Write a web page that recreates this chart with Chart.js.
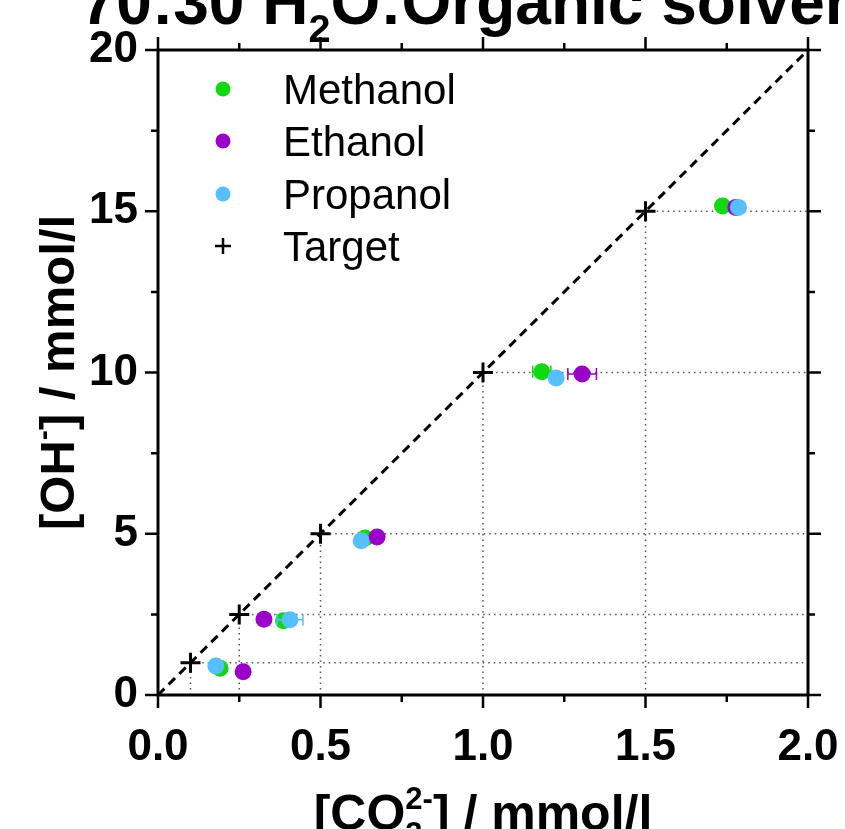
<!DOCTYPE html>
<html>
<head>
<meta charset="utf-8">
<script src="https://cdn.jsdelivr.net/npm/chart.js@4.4.0/dist/chart.umd.min.js"></script>
<style>
  html, body { margin: 0; padding: 0; background: #fff; overflow: hidden; }
  canvas { display: block; }
</style>
</head>
<body>
<canvas id="chart" width="845" height="829"></canvas>
<script>
// values
const seriesNames = ['Methanol', 'Ethanol', 'Propanol', 'Target'];
const seriesColors = ['#12d812', '#9b00c9', '#55bfff', '#000000'];

const methanolX = [0.191, 0.386, 0.637, 1.181, 1.737];
const methanolY = [0.83, 2.30, 4.87, 10.02, 15.16];
const methanolErr = [0.005, 0.015, 0.02, 0.028, 0.01];

const ethanolX = [0.262, 0.326, 0.674, 1.305, 1.778];
const ethanolY = [0.72, 2.35, 4.90, 9.95, 15.12];
const ethanolErr = [0.012, 0.012, 0.01, 0.044, 0.01];

const propanolX = [0.178, 0.406, 0.625, 1.225, 1.786];
const propanolY = [0.90, 2.33, 4.78, 9.83, 15.12];
const propanolErr = [0.005, 0.04, 0.01, 0.01, 0.01];

const targetX = [0.1, 0.25, 0.5, 1.0, 1.5];
const targetY = [1, 2.5, 5, 10, 15];

const xMin = 0, xMax = 2, xStep = 0.5;
const yMin = 0, yMax = 20, yStep = 5;

const FONT = "'Liberation Sans', Arial, sans-serif";

function pts(xs, ys) {
    return xs.map((x, i) => ({ x: x, y: ys[i] }));
}

// dotted guides from each target down to the x axis and across to the right edge
const guidePoints = [];
targetX.forEach((tx, i) => {
    guidePoints.push({ x: tx, y: yMin }, { x: tx, y: targetY[i] }, { x: xMax, y: targetY[i] });
    guidePoints.push({ x: tx, y: null });
});

// draws a line of text with sub/superscripts, centred on x
function drawRich(ctx, parts, x, y, size, weight) {
    const small = size * 0.62;
    const widthOf = (p) => {
        if (p.t) { ctx.font = weight + ' ' + size + 'px ' + FONT; return ctx.measureText(p.t).width; }
        ctx.font = weight + ' ' + small + 'px ' + FONT;
        return Math.max(p.sub ? ctx.measureText(p.sub).width : 0, p.sup ? ctx.measureText(p.sup).width : 0);
    };
    const total = parts.reduce((s, p) => s + widthOf(p), 0);
    let cx = x - total / 2;
    ctx.textAlign = 'left';
    ctx.textBaseline = 'alphabetic';
    parts.forEach(p => {
        const w = widthOf(p);
        if (p.t) {
            ctx.font = weight + ' ' + size + 'px ' + FONT;
            ctx.fillText(p.t, cx, y);
        } else {
            ctx.font = weight + ' ' + small + 'px ' + FONT;
            if (p.sub) ctx.fillText(p.sub, cx, y + size * 0.28);
            if (p.sup) ctx.fillText(p.sup, cx, y - size * 0.42);
        }
        cx += w;
    });
}

const errorBars = {
    id: 'errorBars',
    beforeDatasetDraw(chart, args) {
        const ds = chart.data.datasets[args.index];
        if (!ds.xErr) return;
        const ctx = chart.ctx;
        const xs = chart.scales.x, ys = chart.scales.y;
        ctx.save();
        ctx.strokeStyle = ds.backgroundColor;
        ctx.lineWidth = 1.5;
        ds.data.forEach((p, i) => {
            const e = ds.xErr[i];
            const py = ys.getPixelForValue(p.y);
            const x1 = xs.getPixelForValue(p.x - e), x2 = xs.getPixelForValue(p.x + e);
            ctx.beginPath();
            ctx.moveTo(x1, py); ctx.lineTo(x2, py);
            ctx.moveTo(x1, py - 6); ctx.lineTo(x1, py + 6);
            ctx.moveTo(x2, py - 6); ctx.lineTo(x2, py + 6);
            ctx.stroke();
        });
        ctx.restore();
    }
};

const frameAndText = {
    id: 'frameAndText',
    afterDraw(chart) {
        const ctx = chart.ctx;
        const a = chart.chartArea;
        const xs = chart.scales.x, ys = chart.scales.y;
        ctx.save();
        ctx.strokeStyle = '#000';
        ctx.lineWidth = 3;
        ctx.strokeRect(a.left, a.top, a.right - a.left, a.bottom - a.top);

        // major and minor ticks, outward on all four sides
        ctx.lineWidth = 2.5;
        ctx.beginPath();
        for (let v = xMin; v <= xMax + 1e-9; v += xStep / 2) {
            const major = Math.abs(v / xStep - Math.round(v / xStep)) < 1e-6;
            const len = major ? 13 : 7;
            const px = xs.getPixelForValue(v);
            ctx.moveTo(px, a.bottom); ctx.lineTo(px, a.bottom + len);
            ctx.moveTo(px, a.top); ctx.lineTo(px, a.top - len);
        }
        for (let v = yMin; v <= yMax + 1e-9; v += yStep / 2) {
            const major = Math.abs(v / yStep - Math.round(v / yStep)) < 1e-6;
            const len = major ? 13 : 7;
            const py = ys.getPixelForValue(v);
            ctx.moveTo(a.left, py); ctx.lineTo(a.left - len, py);
            ctx.moveTo(a.right, py); ctx.lineTo(a.right + len, py);
        }
        ctx.stroke();

        // legend, in the order of seriesNames
        const rows = [89, 141, 194, 246];
        seriesNames.forEach((name, i) => {
            const d = chart.data.datasets.find(ds => ds.label === name);
            const cy = rows[i];
            ctx.fillStyle = d.backgroundColor;
            ctx.strokeStyle = d.borderColor;
            if (d.pointStyle === 'cross') {
                ctx.lineWidth = 2.5;
                ctx.beginPath();
                ctx.moveTo(223 - 8, cy); ctx.lineTo(223 + 8, cy);
                ctx.moveTo(223, cy - 8); ctx.lineTo(223, cy + 8);
                ctx.stroke();
            } else {
                ctx.beginPath();
                ctx.arc(223, cy, 7.5, 0, Math.PI * 2);
                ctx.fill();
            }
            ctx.fillStyle = '#000';
            ctx.font = '42px ' + FONT;
            ctx.textAlign = 'left';
            ctx.textBaseline = 'alphabetic';
            ctx.fillText(name, 283, cy + 15);
        });

        // titles
        ctx.fillStyle = '#000';
        drawRich(ctx, [{ t: '70:30 H' }, { sub: '2' }, { t: 'O:Organic solvent' }], (a.left + a.right) / 2, 24, 64, 'bold');
        drawRich(ctx, [{ t: '[CO' }, { sub: '3', sup: '2-' }, { t: '] / mmol/l' }], (a.left + a.right) / 2, 830, 50, 'bold');
        ctx.translate(74, (a.top + a.bottom) / 2);
        ctx.rotate(-Math.PI / 2);
        drawRich(ctx, [{ t: '[OH' }, { sup: '-' }, { t: '] / mmol/l' }], 0, 0, 49, 'bold');
        ctx.restore();
    }
};

new Chart(document.getElementById('chart'), {
    type: 'scatter',
    data: {
        datasets: [
            {
                label: seriesNames[3], order: 0,
                data: pts(targetX, targetY),
                pointStyle: 'cross', pointRadius: 10, pointBorderWidth: 3,
                backgroundColor: seriesColors[3], borderColor: seriesColors[3]
            },
            {
                label: seriesNames[2], order: 1,
                data: pts(propanolX, propanolY), xErr: propanolErr,
                pointRadius: 8.5, pointBorderWidth: 0,
                backgroundColor: seriesColors[2], borderColor: seriesColors[2]
            },
            {
                label: seriesNames[1], order: 2,
                data: pts(ethanolX, ethanolY), xErr: ethanolErr,
                pointRadius: 8.5, pointBorderWidth: 0,
                backgroundColor: seriesColors[1], borderColor: seriesColors[1]
            },
            {
                label: seriesNames[0], order: 3,
                data: pts(methanolX, methanolY), xErr: methanolErr,
                pointRadius: 8.5, pointBorderWidth: 0,
                backgroundColor: seriesColors[0], borderColor: seriesColors[0]
            },
            {
                label: '1:1', order: 4, type: 'line',
                data: [{ x: xMin, y: yMin }, { x: xMax, y: yMax }],
                borderColor: '#000', borderWidth: 3, borderDash: [9, 6],
                pointRadius: 0, fill: false
            },
            {
                label: 'guides', order: 5, type: 'line',
                data: guidePoints, spanGaps: false,
                borderColor: '#555', borderWidth: 1.5, borderDash: [1.5, 4],
                pointRadius: 0, fill: false
            }
        ]
    },
    options: {
        responsive: false,
        animation: false,
        devicePixelRatio: 1,
        layout: { padding: { top: 50, right: 37, bottom: 0, left: 0 } },
        plugins: {
            legend: { display: false },
            title: { display: false },
            tooltip: { enabled: false }
        },
        scales: {
            x: {
                type: 'linear', min: xMin, max: xMax,
                grid: { display: false }, border: { display: false },
                ticks: {
                    stepSize: xStep, padding: 18, color: '#000',
                    font: { family: FONT, weight: 'bold', size: 44 },
                    callback: v => v.toFixed(1)
                },
                afterFit: s => { s.height = 134; s.paddingLeft = 0; s.paddingRight = 0; }
            },
            y: {
                type: 'linear', min: yMin, max: yMax,
                grid: { display: false }, border: { display: false },
                ticks: {
                    stepSize: yStep, padding: 12, color: '#000',
                    font: { family: FONT, weight: 'bold', size: 44 }
                },
                afterFit: s => { s.width = 158; }
            }
        }
    },
    plugins: [errorBars, frameAndText]
});
</script>
</body>
</html>
